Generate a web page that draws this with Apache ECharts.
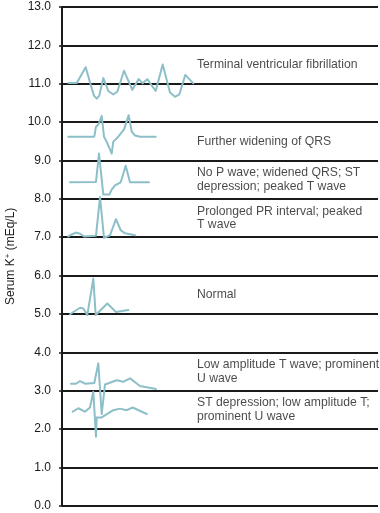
<!DOCTYPE html>
<html>
<head>
<meta charset="utf-8">
<script src="https://cdn.jsdelivr.net/npm/echarts@6/dist/echarts.min.js"></script>
<style>
html,body{margin:0;padding:0;background:#fff;}
#chart{width:380px;height:513px;}
</style>
</head>
<body>
<div id="chart"></div>
<script>
// y-axis ticks (serum K+, mEq/L)
var yTicks = [0,1,2,3,4,5,6,7,8,9,10,11,12,13];

// ECG traces: [time position, K+ level]
var traceVF = [[6.3,11.02],[14.7,11.02],[23.7,11.43],[29.7,10.88],[32,10.69],[34.7,10.61],[37.3,10.69],[41.3,11.15],[46.3,10.81],[51.3,10.72],[55.3,10.79],[62,11.34],[70.3,10.84],[76.7,11.12],[80.7,11.01],[85.3,11.12],[93.7,10.81],[100.7,11.50],[108,10.77],[113,10.66],[117.3,10.72],[123.3,11.23],[131.3,11.01]];
var traceWideQRS = [[6.3,9.62],[32.3,9.62],[34,9.88],[36.7,9.95],[39.7,10.16],[42,9.62],[44.7,9.49],[49.7,9.18],[51.3,9.49],[55.3,9.59],[62,9.81],[66.7,10.18],[69.7,9.75],[73,9.65],[78,9.62],[93.7,9.62]];
var traceNoP = [[8,8.43],[34,8.44],[37,9.18],[41.3,8.11],[47.3,8.11],[49.7,8.24],[53,8.35],[58.7,8.43],[63.7,8.86],[68,8.43],[87,8.43]];
var traceLongPR = [[6.3,7.02],[9.7,7.07],[14,7.12],[18,7.09],[22,7.02],[34,7.04],[38,8.05],[42,6.98],[48,7.05],[54,7.47],[58.7,7.18],[63,7.10],[73,7.05]];
var traceNormal = [[8,4.99],[18,5.16],[21.3,5.14],[25.3,4.97],[31.3,5.92],[33.7,4.97],[45.3,5.27],[54,5.05],[66.3,5.10]];
var traceLowT = [[9,3.18],[14,3.18],[18,3.25],[23,3.18],[32.3,3.20],[36.3,3.71],[39.7,2.39],[43,3.16],[54.7,3.27],[61.3,3.23],[68,3.32],[78,3.12],[94,3.04]];
var traceSTdep = [[10.7,2.45],[16.3,2.54],[23,2.45],[28,2.56],[31.3,2.97],[34,1.80],[34.7,2.30],[39.7,2.30],[51.3,2.49],[58,2.53],[64.7,2.49],[70.7,2.56],[84.7,2.39]];

// annotations
var labelTexts = [
  'Terminal ventricular fibrillation',
  'Further widening of QRS',
  'No P wave; widened QRS; ST\ndepression; peaked T wave',
  'Prolonged PR interval; peaked\nT wave',
  'Normal',
  'Low amplitude T wave; prominent\nU wave',
  'ST depression; low amplitude T;\nprominent U wave'
];
var labelLevels = [11.5, 9.5, 8.5, 7.5, 5.5, 3.5, 2.5];
var labelX = 135;

var FONT = '"Liberation Sans", Arial, Helvetica, sans-serif';
var traceColor = '#8dbfc9';
var ink = '#1a1a1a';

var traces = [traceVF, traceWideQRS, traceNoP, traceLongPR, traceNormal, traceLowT, traceSTdep];
var series = traces.map(function (d) {
  return {
    type: 'line', data: d, showSymbol: false, symbol: 'none', silent: true,
    lineStyle: { color: traceColor, width: 2, join: 'round', cap: 'round' },
    animation: false, z: 3
  };
});
series.push({
  type: 'scatter', symbolSize: 0, silent: true, animation: false,
  data: labelLevels.map(function (v, i) { return { value: [labelX, v], name: labelTexts[i] }; }),
  label: {
    show: true, position: 'right', distance: 0,
    formatter: function (p) { return p.name; },
    color: ink, fontSize: 12.2, fontFamily: FONT, lineHeight: 13.5, align: 'left'
  },
  z: 4
});

var chart = echarts.init(document.getElementById('chart'), null, { renderer: 'canvas' });
chart.setOption({
  animation: false,
  backgroundColor: '#fff',
  grid: { left: 62, right: 2, top: 7, bottom: 7.3, containLabel: false, outerBoundsMode: 'none' },
  xAxis: { type: 'value', min: 0, max: 316, show: false },
  yAxis: {
    type: 'value', min: yTicks[0], max: yTicks[yTicks.length - 1], interval: 1,
    name: 'Serum K{sup|+} (mEq/L)', nameLocation: 'middle', nameGap: 44,
    nameTextStyle: {
      color: ink, fontSize: 12, fontFamily: FONT,
      rich: { sup: { fontSize: 8, verticalAlign: 'top', color: ink, fontFamily: FONT, lineHeight: 14 } }
    },
    axisLine: { show: true, lineStyle: { color: ink, width: 2 } },
    axisTick: { show: true, length: 3, lineStyle: { color: ink, width: 1.5 } },
    axisLabel: { color: ink, fontSize: 12, fontFamily: FONT, margin: 11,
      formatter: function (v) { return v.toFixed(1); } },
    splitLine: { show: true, lineStyle: { color: ink, width: 2 } }
  },
  series: series
});
</script>
</body>
</html>
